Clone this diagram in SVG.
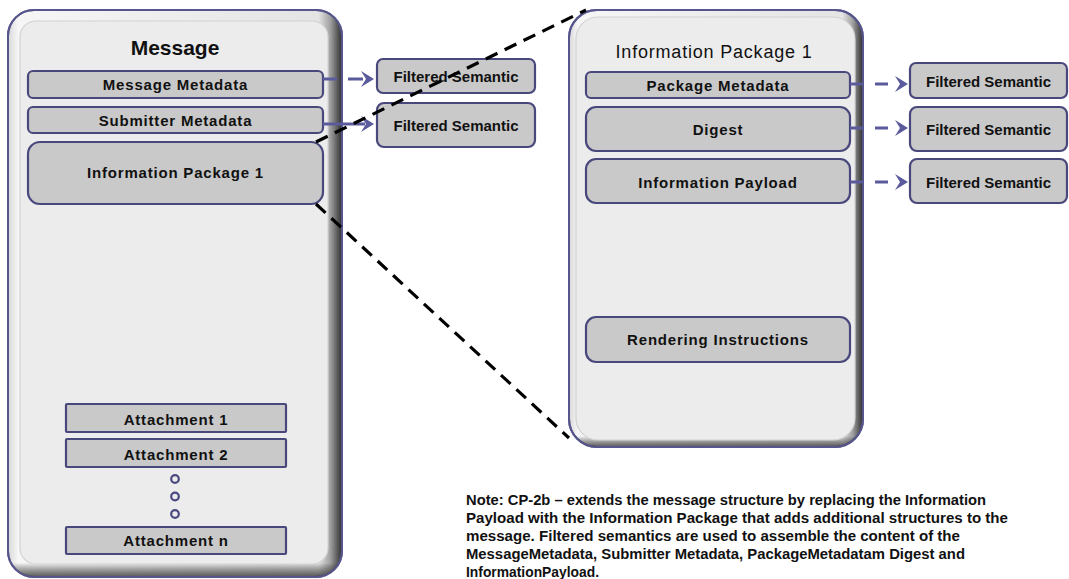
<svg xmlns="http://www.w3.org/2000/svg" xmlns:xlink="http://www.w3.org/1999/xlink" width="1069" height="579" viewBox="0 0 1069 579">
<style>
  text { font-family: "Liberation Sans", Arial, sans-serif; fill: #111; }
  .lbl { font-size: 15px; font-weight: bold; text-anchor: middle; letter-spacing: 0.8px; }
  .fs { font-size: 15px; font-weight: bold; text-anchor: middle; }
  .box { fill: #c9c9c9; stroke: #48487c; stroke-width: 2.2; }
  .outer { stroke: #56568c; stroke-width: 2; }
  .inner { fill: #ececec; stroke: #d2d2d2; stroke-width: 1.2; }
  .arrow { fill: none; stroke: #5a5a9c; stroke-width: 3; }
  .chev { fill: #5a5a9c; }
  .zoom { fill: none; stroke: #000; stroke-width: 3.2; stroke-dasharray: 13 8; }
  .dot { fill: none; stroke: #4a4a80; stroke-width: 2.2; }
  .note { font-size: 14.5px; font-weight: bold; }
</style>
<defs>
  <linearGradient id="bevelH" x1="0" y1="0" x2="1" y2="0">
    <stop offset="0" stop-color="#d8d8d8"/>
    <stop offset="0.03" stop-color="#f6f6f6"/>
    <stop offset="0.93" stop-color="#e4e4e4"/>
    <stop offset="0.965" stop-color="#a0a0a0"/>
    <stop offset="1" stop-color="#2e2e2e"/>
  </linearGradient>
  <linearGradient id="bevelV" x1="0" y1="0" x2="0" y2="1">
    <stop offset="0" stop-color="#000" stop-opacity="0"/>
    <stop offset="0.975" stop-color="#000" stop-opacity="0"/>
    <stop offset="1" stop-color="#333" stop-opacity="0.8"/>
  </linearGradient>
  <path id="chev" d="M-13,-8 L0,0 L-13,8 L-8,0 Z"/>
</defs>
<rect width="1069" height="579" fill="#fff"/>

<g id="message">
  <rect class="outer" x="8" y="10" width="334" height="567" rx="26" fill="url(#bevelH)"/>
  <rect x="8" y="10" width="334" height="567" rx="26" fill="url(#bevelV)"/>
  <rect x="8" y="10" width="334" height="567" rx="26" fill="none" stroke="#56568c" stroke-width="2"/>
  <rect class="inner" x="20" y="21" width="308" height="543" rx="16"/>
  <text x="175" y="55" font-size="21" font-weight="bold" text-anchor="middle">Message</text>
</g>
<g id="message-metadata">
  <rect class="box" x="28" y="71" width="295" height="27" rx="5"/>
  <text class="lbl" x="175.5" y="90">Message Metadata</text>
</g>
<g id="submitter-metadata">
  <rect class="box" x="28" y="107" width="295" height="26" rx="5"/>
  <text class="lbl" x="175.5" y="125.5">Submitter Metadata</text>
</g>
<g id="info-package-left">
  <rect class="box" x="28" y="142" width="295" height="62" rx="12"/>
  <text class="lbl" x="175.5" y="178">Information Package 1</text>
</g>
<g id="attachment-1">
  <rect class="box" x="66" y="404" width="220" height="28" rx="1"/>
  <text class="lbl" x="176" y="424.5">Attachment 1</text>
</g>
<g id="attachment-2">
  <rect class="box" x="66" y="439" width="220" height="28" rx="1"/>
  <text class="lbl" x="176" y="459.5">Attachment 2</text>
</g>
<g id="ellipsis">
  <circle class="dot" cx="175" cy="479" r="3.8"/>
  <circle class="dot" cx="175" cy="496.5" r="3.8"/>
  <circle class="dot" cx="175" cy="514" r="3.8"/>
</g>
<g id="attachment-n">
  <rect class="box" x="66" y="527" width="220" height="27" rx="1"/>
  <text class="lbl" x="176" y="546">Attachment n</text>
</g>

<g id="filtered-left-1">
  <rect class="box" x="377" y="59" width="158" height="34" rx="6"/>
  <text class="fs" x="456" y="82">Filtered Semantic</text>
</g>
<g id="filtered-left-2">
  <rect class="box" x="377" y="103" width="158" height="44" rx="7"/>
  <text class="fs" x="456" y="131">Filtered Semantic</text>
</g>

<g id="info-package-detail">
  <rect class="outer" x="569" y="10" width="294" height="437" rx="28" fill="url(#bevelH)"/>
  <rect x="569" y="10" width="294" height="437" rx="28" fill="url(#bevelV)"/>
  <rect x="569" y="10" width="294" height="437" rx="28" fill="none" stroke="#56568c" stroke-width="2"/>
  <rect class="inner" x="576" y="17" width="279" height="423" rx="22"/>
  <text x="714" y="58" font-size="18" text-anchor="middle" letter-spacing="0.8">Information Package 1</text>
</g>
<g id="package-metadata">
  <rect class="box" x="586" y="72" width="264" height="26" rx="5"/>
  <text class="lbl" x="718" y="91">Package Metadata</text>
</g>
<g id="digest">
  <rect class="box" x="586" y="107" width="264" height="44" rx="10"/>
  <text class="lbl" x="718" y="135">Digest</text>
</g>
<g id="information-payload">
  <rect class="box" x="586" y="159" width="264" height="44" rx="10"/>
  <text class="lbl" x="718" y="188">Information Payload</text>
</g>
<g id="rendering-instructions">
  <rect class="box" x="586" y="317" width="264" height="45" rx="10"/>
  <text class="lbl" x="718" y="345">Rendering Instructions</text>
</g>

<g id="filtered-right-1">
  <rect class="box" x="910" y="63" width="157" height="35" rx="6"/>
  <text class="fs" x="988.5" y="87">Filtered Semantic</text>
</g>
<g id="filtered-right-2">
  <rect class="box" x="910" y="107" width="157" height="44" rx="7"/>
  <text class="fs" x="988.5" y="135">Filtered Semantic</text>
</g>
<g id="filtered-right-3">
  <rect class="box" x="910" y="159" width="157" height="44" rx="7"/>
  <text class="fs" x="988.5" y="188">Filtered Semantic</text>
</g>

<g id="connectors">
  <path class="arrow" d="M323,79 H337 M348,79 H363"/>
  <use href="#chev" class="chev" transform="translate(374,79)"/>
  <path class="arrow" d="M323,124 H365"/>
  <use href="#chev" class="chev" transform="translate(374,124)"/>
  <path class="arrow" d="M850,84 H863 M875,84 H888"/>
  <use href="#chev" class="chev" transform="translate(908,84)"/>
  <path class="arrow" d="M850,128 H863 M875,128 H888"/>
  <use href="#chev" class="chev" transform="translate(908,128)"/>
  <path class="arrow" d="M850,182 H863 M875,182 H888"/>
  <use href="#chev" class="chev" transform="translate(908,182)"/>
  <line class="zoom" x1="316" y1="142" x2="586" y2="10"/>
  <line class="zoom" x1="316" y1="204" x2="569" y2="438"/>
</g>

<g id="note">
  <text class="note" x="466" y="505" textLength="520" lengthAdjust="spacingAndGlyphs">Note: CP-2b – extends the message structure by replacing the  Information</text>
  <text class="note" x="466" y="523" textLength="542" lengthAdjust="spacingAndGlyphs">Payload with the Information Package  that  adds additional structures to the</text>
  <text class="note" x="466" y="541" textLength="494" lengthAdjust="spacingAndGlyphs">message.   Filtered semantics are used to assemble the content of the</text>
  <text class="note" x="466" y="559" textLength="499" lengthAdjust="spacingAndGlyphs">MessageMetadata, Submitter Metadata, PackageMetadatam Digest and</text>
  <text class="note" x="466" y="577" textLength="133" lengthAdjust="spacingAndGlyphs">InformationPayload.</text>
</g>
</svg>
